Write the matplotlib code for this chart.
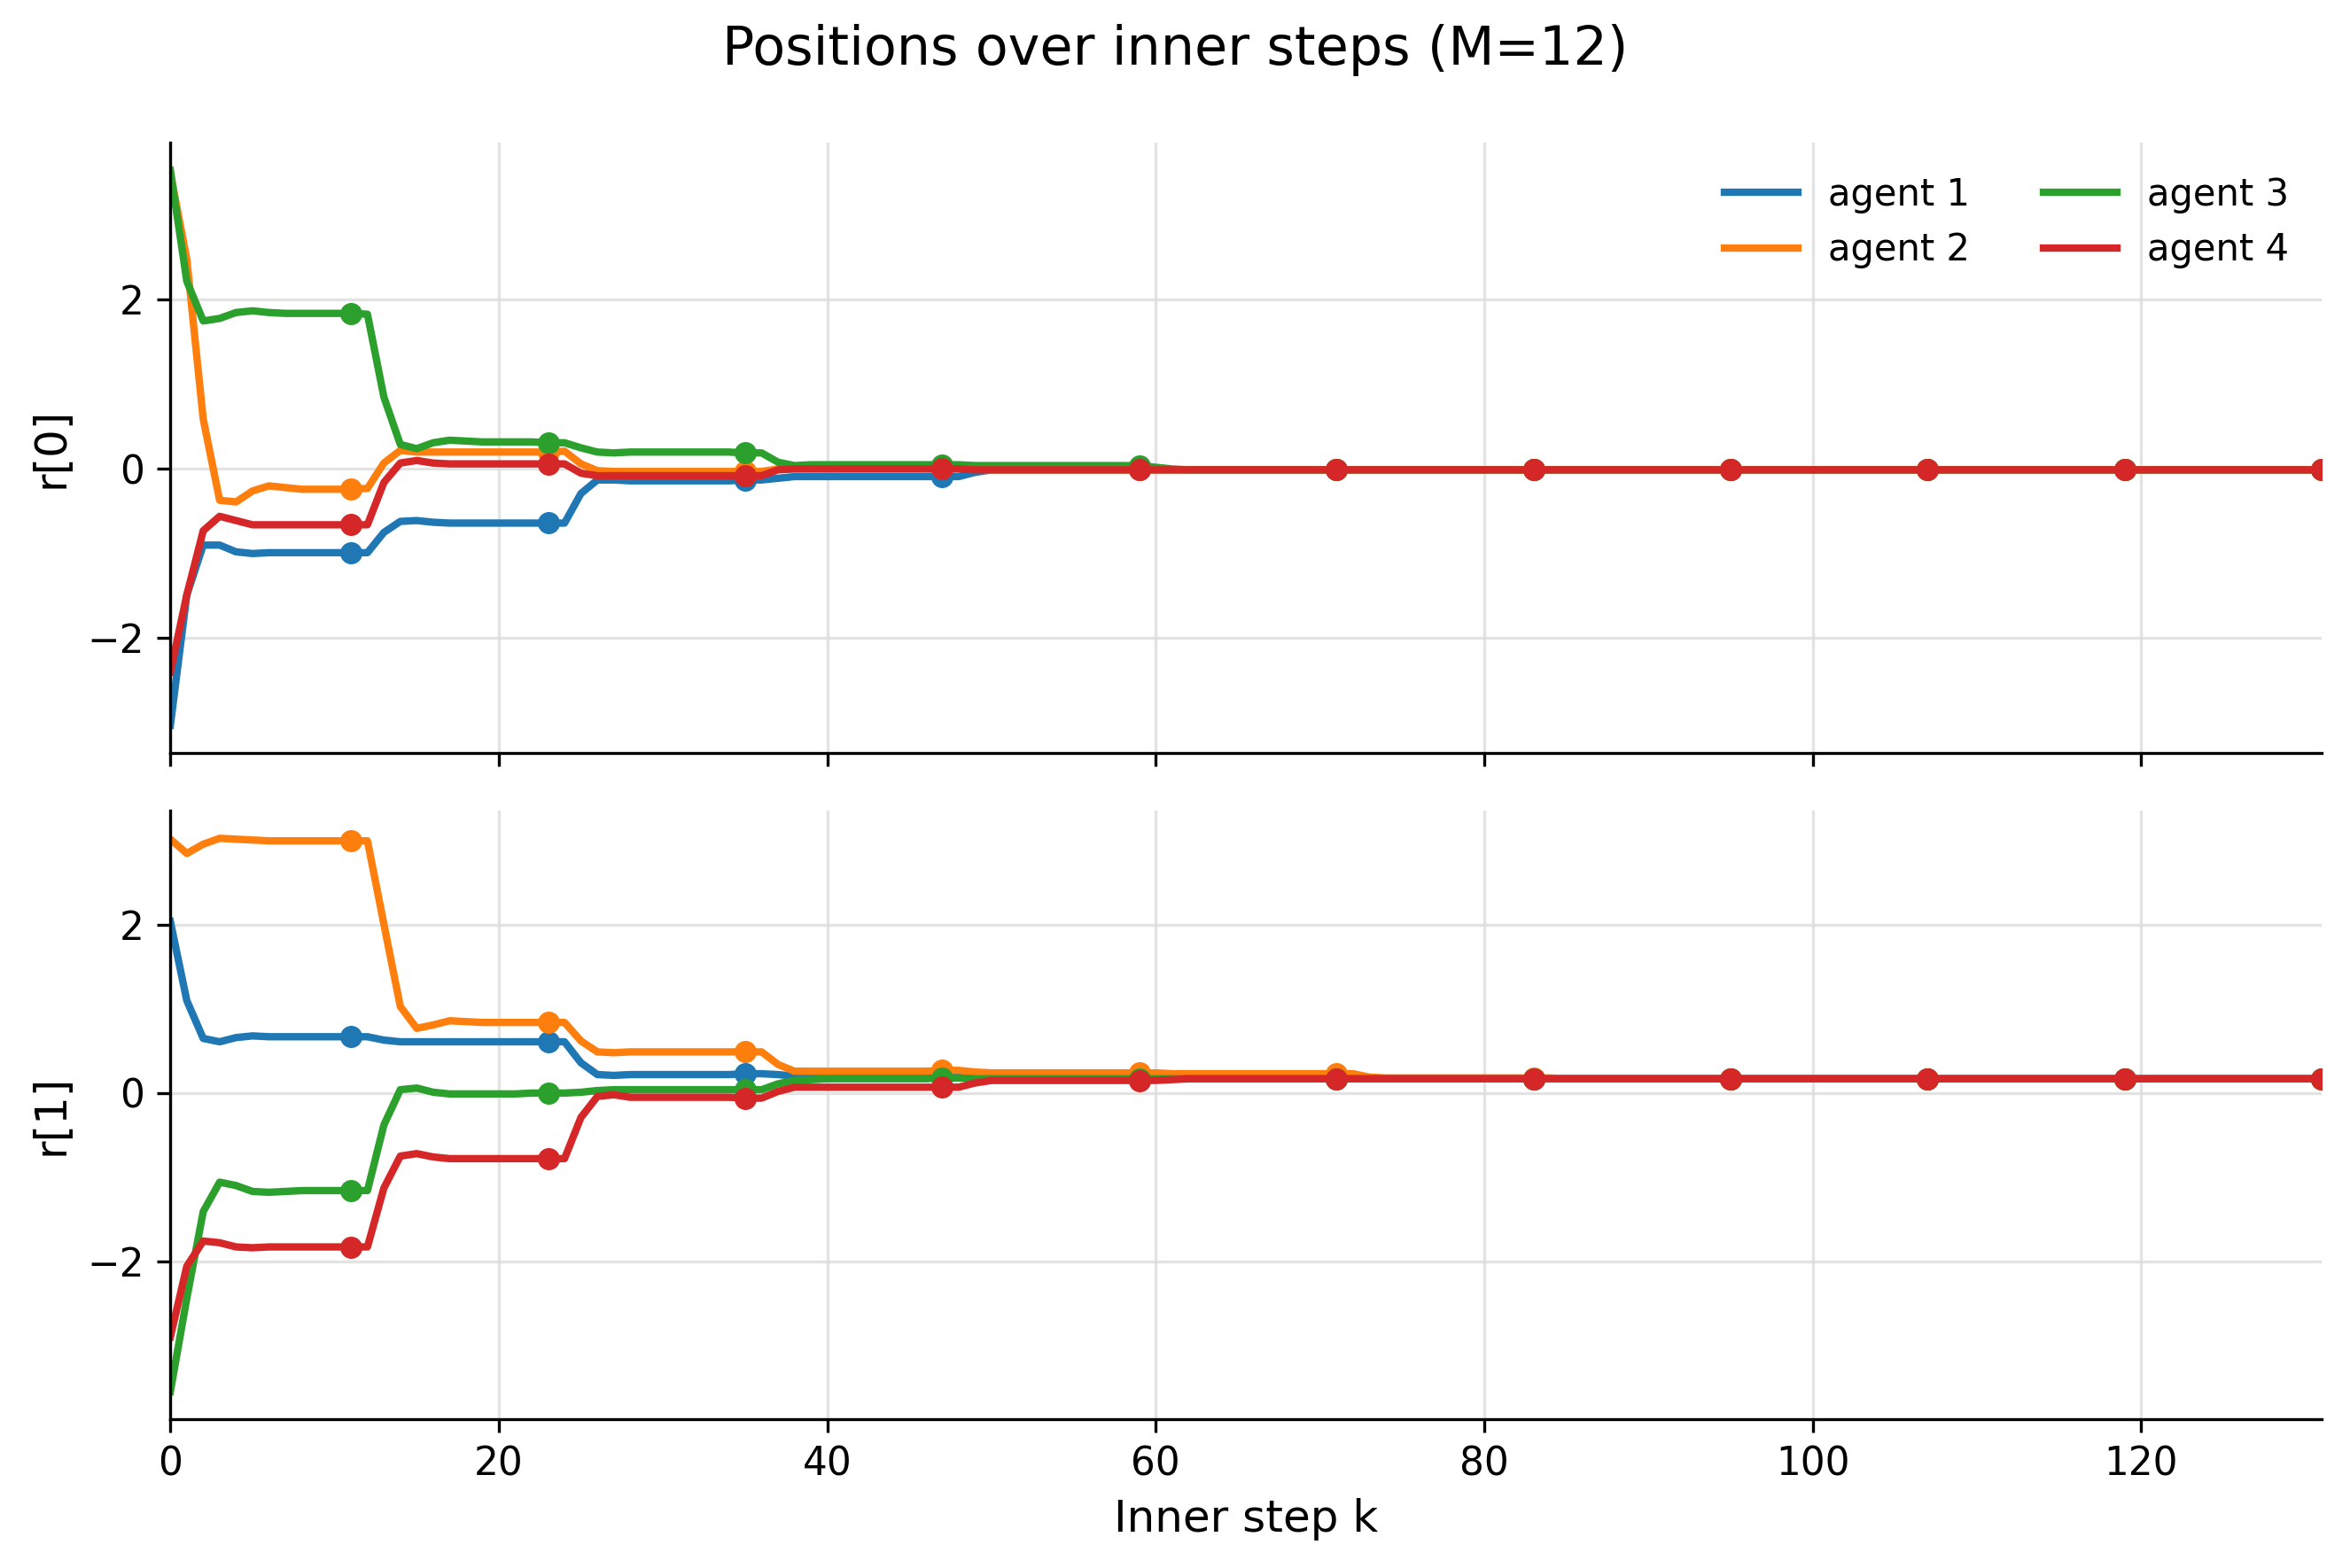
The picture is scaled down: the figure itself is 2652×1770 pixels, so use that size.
import numpy as np
import matplotlib
matplotlib.use("Agg")
import matplotlib.pyplot as plt
from matplotlib.ticker import MultipleLocator

# inner steps, M=12 per outer iteration, 11 outer iterations
M = 12
steps = np.arange(132)
labels = ["agent 1", "agent 2", "agent 3", "agent 4"]
colors = ["#1f77b4", "#ff7f0e", "#2ca02c", "#d62728"]

# r[0] per agent, one row per outer iteration (12 inner steps)
r0_agent1 = [
    -3.03, -1.49, -0.90, -0.90, -0.98, -1.00, -0.99, -0.99, -0.99, -0.99, -0.99, -0.99,
    -0.99, -0.75, -0.62, -0.61, -0.63, -0.64, -0.64, -0.64, -0.64, -0.64, -0.64, -0.64,
    -0.64, -0.29, -0.13, -0.13, -0.14, -0.14, -0.14, -0.14, -0.14, -0.14, -0.14, -0.13,
    -0.13, -0.11, -0.09, -0.09, -0.09, -0.09, -0.09, -0.09, -0.09, -0.09, -0.09, -0.09,
    -0.09, -0.04, -0.01, -0.01, -0.01, -0.01, -0.01, -0.01, -0.01, -0.01, -0.01, -0.01,
    -0.01, -0.01, -0.01, -0.01, -0.01, -0.01, -0.01, -0.01, -0.01, -0.01, -0.01, -0.01,
    -0.01, -0.01, -0.01, -0.01, -0.01, -0.01, -0.01, -0.01, -0.01, -0.01, -0.01, -0.01,
    -0.01, -0.01, -0.01, -0.01, -0.01, -0.01, -0.01, -0.01, -0.01, -0.01, -0.01, -0.01,
    -0.01, -0.01, -0.01, -0.01, -0.01, -0.01, -0.01, -0.01, -0.01, -0.01, -0.01, -0.01,
    -0.01, -0.01, -0.01, -0.01, -0.01, -0.01, -0.01, -0.01, -0.01, -0.01, -0.01, -0.01,
    -0.01, -0.01, -0.01, -0.01, -0.01, -0.01, -0.01, -0.01, -0.01, -0.01, -0.01, -0.01,
]
r0_agent2 = [
    3.50, 2.48, 0.59, -0.37, -0.39, -0.26, -0.20, -0.22, -0.24, -0.24, -0.24, -0.24,
    -0.23, 0.07, 0.22, 0.20, 0.20, 0.20, 0.20, 0.20, 0.20, 0.20, 0.20, 0.20,
    0.21, 0.06, -0.02, -0.03, -0.03, -0.03, -0.03, -0.03, -0.03, -0.03, -0.03, -0.03,
    -0.03, 0.00, 0.01, 0.01, 0.01, 0.01, 0.01, 0.01, 0.01, 0.01, 0.01, 0.01,
    0.01, 0.00, -0.01, -0.01, -0.01, -0.01, -0.01, -0.01, -0.01, -0.01, -0.01, -0.01,
    -0.01, -0.01, -0.01, -0.01, -0.01, -0.01, -0.01, -0.01, -0.01, -0.01, -0.01, -0.01,
    -0.01, -0.01, -0.01, -0.01, -0.01, -0.01, -0.01, -0.01, -0.01, -0.01, -0.01, -0.01,
    -0.01, -0.01, -0.01, -0.01, -0.01, -0.01, -0.01, -0.01, -0.01, -0.01, -0.01, -0.01,
    -0.01, -0.01, -0.01, -0.01, -0.01, -0.01, -0.01, -0.01, -0.01, -0.01, -0.01, -0.01,
    -0.01, -0.01, -0.01, -0.01, -0.01, -0.01, -0.01, -0.01, -0.01, -0.01, -0.01, -0.01,
    -0.01, -0.01, -0.01, -0.01, -0.01, -0.01, -0.01, -0.01, -0.01, -0.01, -0.01, -0.01,
]
r0_agent3 = [
    3.53, 2.22, 1.75, 1.78, 1.85, 1.87, 1.85, 1.84, 1.84, 1.84, 1.84, 1.84,
    1.83, 0.85, 0.29, 0.24, 0.31, 0.34, 0.33, 0.32, 0.32, 0.32, 0.32, 0.31,
    0.31, 0.25, 0.20, 0.19, 0.20, 0.20, 0.20, 0.20, 0.20, 0.20, 0.20, 0.19,
    0.19, 0.08, 0.04, 0.05, 0.05, 0.05, 0.05, 0.05, 0.05, 0.05, 0.05, 0.05,
    0.05, 0.04, 0.04, 0.04, 0.04, 0.04, 0.04, 0.04, 0.04, 0.04, 0.04, 0.04,
    0.02, 0.00, -0.01, -0.01, -0.01, -0.01, -0.01, -0.01, -0.01, -0.01, -0.01, -0.01,
    -0.01, -0.01, -0.01, -0.01, -0.01, -0.01, -0.01, -0.01, -0.01, -0.01, -0.01, -0.01,
    -0.01, -0.01, -0.01, -0.01, -0.01, -0.01, -0.01, -0.01, -0.01, -0.01, -0.01, -0.01,
    -0.01, -0.01, -0.01, -0.01, -0.01, -0.01, -0.01, -0.01, -0.01, -0.01, -0.01, -0.01,
    -0.01, -0.01, -0.01, -0.01, -0.01, -0.01, -0.01, -0.01, -0.01, -0.01, -0.01, -0.01,
    -0.01, -0.01, -0.01, -0.01, -0.01, -0.01, -0.01, -0.01, -0.01, -0.01, -0.01, -0.01,
]
r0_agent4 = [
    -2.40, -1.49, -0.73, -0.56, -0.61, -0.66, -0.66, -0.66, -0.66, -0.66, -0.66, -0.66,
    -0.66, -0.16, 0.07, 0.10, 0.07, 0.06, 0.06, 0.06, 0.06, 0.06, 0.06, 0.06,
    0.06, -0.05, -0.08, -0.08, -0.08, -0.08, -0.08, -0.08, -0.08, -0.08, -0.08, -0.08,
    -0.08, -0.01, 0.00, 0.00, 0.00, 0.00, 0.00, 0.00, 0.00, 0.00, 0.00, 0.00,
    0.00, -0.01, -0.01, -0.01, -0.01, -0.01, -0.01, -0.01, -0.01, -0.01, -0.01, -0.01,
    -0.01, -0.01, -0.01, -0.01, -0.01, -0.01, -0.01, -0.01, -0.01, -0.01, -0.01, -0.01,
    -0.01, -0.01, -0.01, -0.01, -0.01, -0.01, -0.01, -0.01, -0.01, -0.01, -0.01, -0.01,
    -0.01, -0.01, -0.01, -0.01, -0.01, -0.01, -0.01, -0.01, -0.01, -0.01, -0.01, -0.01,
    -0.01, -0.01, -0.01, -0.01, -0.01, -0.01, -0.01, -0.01, -0.01, -0.01, -0.01, -0.01,
    -0.01, -0.01, -0.01, -0.01, -0.01, -0.01, -0.01, -0.01, -0.01, -0.01, -0.01, -0.01,
    -0.01, -0.01, -0.01, -0.01, -0.01, -0.01, -0.01, -0.01, -0.01, -0.01, -0.01, -0.01,
]

# r[1] per agent
r1_agent1 = [
    2.04, 1.10, 0.65, 0.61, 0.66, 0.68, 0.67, 0.67, 0.67, 0.67, 0.67, 0.67,
    0.67, 0.63, 0.61, 0.61, 0.61, 0.61, 0.61, 0.61, 0.61, 0.61, 0.61, 0.61,
    0.61, 0.36, 0.22, 0.21, 0.22, 0.22, 0.22, 0.22, 0.22, 0.22, 0.22, 0.23,
    0.23, 0.22, 0.20, 0.19, 0.19, 0.19, 0.19, 0.19, 0.19, 0.19, 0.19, 0.19,
    0.19, 0.18, 0.18, 0.18, 0.18, 0.18, 0.18, 0.18, 0.18, 0.18, 0.18, 0.18,
    0.18, 0.17, 0.17, 0.17, 0.17, 0.17, 0.17, 0.17, 0.17, 0.17, 0.17, 0.17,
    0.17, 0.17, 0.17, 0.17, 0.17, 0.17, 0.17, 0.17, 0.17, 0.17, 0.17, 0.17,
    0.17, 0.17, 0.17, 0.17, 0.17, 0.17, 0.17, 0.17, 0.17, 0.17, 0.17, 0.17,
    0.17, 0.17, 0.17, 0.17, 0.17, 0.17, 0.17, 0.17, 0.17, 0.17, 0.17, 0.17,
    0.17, 0.17, 0.17, 0.17, 0.17, 0.17, 0.17, 0.17, 0.17, 0.17, 0.17, 0.17,
    0.17, 0.17, 0.17, 0.17, 0.17, 0.17, 0.17, 0.17, 0.17, 0.17, 0.17, 0.17,
]
r1_agent2 = [
    3.02, 2.85, 2.96, 3.03, 3.02, 3.01, 3.00, 3.00, 3.00, 3.00, 3.00, 3.00,
    3.00, 2.01, 1.03, 0.77, 0.81, 0.86, 0.85, 0.84, 0.84, 0.84, 0.84, 0.84,
    0.84, 0.62, 0.49, 0.48, 0.49, 0.49, 0.49, 0.49, 0.49, 0.49, 0.49, 0.49,
    0.49, 0.34, 0.26, 0.26, 0.26, 0.26, 0.26, 0.26, 0.26, 0.26, 0.26, 0.27,
    0.27, 0.25, 0.24, 0.24, 0.24, 0.24, 0.24, 0.24, 0.24, 0.24, 0.24, 0.24,
    0.24, 0.23, 0.23, 0.23, 0.23, 0.23, 0.23, 0.23, 0.23, 0.23, 0.23, 0.23,
    0.23, 0.19, 0.18, 0.18, 0.18, 0.18, 0.18, 0.18, 0.18, 0.18, 0.18, 0.18,
    0.18, 0.17, 0.17, 0.17, 0.17, 0.17, 0.17, 0.17, 0.17, 0.17, 0.17, 0.17,
    0.17, 0.17, 0.17, 0.17, 0.17, 0.17, 0.17, 0.17, 0.17, 0.17, 0.17, 0.17,
    0.17, 0.17, 0.17, 0.17, 0.17, 0.17, 0.17, 0.17, 0.17, 0.17, 0.17, 0.17,
    0.17, 0.17, 0.17, 0.17, 0.17, 0.17, 0.17, 0.17, 0.17, 0.17, 0.17, 0.17,
]
r1_agent3 = [
    -3.55, -2.44, -1.41, -1.06, -1.10, -1.17, -1.18, -1.17, -1.16, -1.16, -1.16, -1.16,
    -1.16, -0.38, 0.04, 0.06, 0.01, -0.01, -0.01, -0.01, -0.01, -0.01, 0.00, 0.00,
    0.00, 0.01, 0.03, 0.04, 0.04, 0.04, 0.04, 0.04, 0.04, 0.04, 0.04, 0.04,
    0.04, 0.11, 0.15, 0.16, 0.17, 0.17, 0.17, 0.17, 0.17, 0.17, 0.17, 0.18,
    0.18, 0.17, 0.17, 0.17, 0.17, 0.17, 0.17, 0.17, 0.17, 0.17, 0.17, 0.17,
    0.17, 0.17, 0.17, 0.17, 0.17, 0.17, 0.17, 0.17, 0.17, 0.17, 0.17, 0.17,
    0.17, 0.17, 0.17, 0.17, 0.17, 0.17, 0.17, 0.17, 0.17, 0.17, 0.17, 0.17,
    0.17, 0.17, 0.17, 0.17, 0.17, 0.17, 0.17, 0.17, 0.17, 0.17, 0.17, 0.17,
    0.17, 0.17, 0.17, 0.17, 0.17, 0.17, 0.17, 0.17, 0.17, 0.17, 0.17, 0.17,
    0.17, 0.17, 0.17, 0.17, 0.17, 0.17, 0.17, 0.17, 0.17, 0.17, 0.17, 0.17,
    0.17, 0.17, 0.17, 0.17, 0.17, 0.17, 0.17, 0.17, 0.17, 0.17, 0.17, 0.17,
]
r1_agent4 = [
    -2.90, -2.06, -1.76, -1.78, -1.83, -1.84, -1.83, -1.83, -1.83, -1.83, -1.83, -1.83,
    -1.83, -1.13, -0.75, -0.72, -0.76, -0.78, -0.78, -0.78, -0.78, -0.78, -0.78, -0.78,
    -0.78, -0.29, -0.04, -0.02, -0.05, -0.05, -0.05, -0.05, -0.05, -0.05, -0.05, -0.06,
    -0.06, 0.02, 0.07, 0.07, 0.07, 0.07, 0.07, 0.07, 0.07, 0.07, 0.07, 0.07,
    0.07, 0.12, 0.15, 0.15, 0.15, 0.15, 0.15, 0.15, 0.15, 0.15, 0.15, 0.15,
    0.15, 0.16, 0.17, 0.17, 0.17, 0.17, 0.17, 0.17, 0.17, 0.17, 0.17, 0.17,
    0.17, 0.17, 0.17, 0.17, 0.17, 0.17, 0.17, 0.17, 0.17, 0.17, 0.17, 0.17,
    0.17, 0.17, 0.17, 0.17, 0.17, 0.17, 0.17, 0.17, 0.17, 0.17, 0.17, 0.17,
    0.17, 0.17, 0.17, 0.17, 0.17, 0.17, 0.17, 0.17, 0.17, 0.17, 0.17, 0.17,
    0.17, 0.17, 0.17, 0.17, 0.17, 0.17, 0.17, 0.17, 0.17, 0.17, 0.17, 0.17,
    0.17, 0.17, 0.17, 0.17, 0.17, 0.17, 0.17, 0.17, 0.17, 0.17, 0.17, 0.17,
]

r0 = [r0_agent1, r0_agent2, r0_agent3, r0_agent4]
r1 = [r1_agent1, r1_agent2, r1_agent3, r1_agent4]

fig = plt.figure(figsize=(8.84, 5.9), dpi=300)
ax0 = fig.add_axes([0.0725, 0.5198, 0.9155, 0.3892])
ax1 = fig.add_axes([0.0725, 0.0949, 0.9155, 0.3881], sharex=ax0)

for ax, comp, name in [(ax0, r0, "r[0]"), (ax1, r1, "r[1]")]:
    for vals, lab, c in zip(comp, labels, colors):
        v = np.array(vals)
        ax.plot(steps, v, color=c, lw=2, label=lab)
        # end of each outer iteration
        ax.plot(steps[M - 1::M], v[M - 1::M], "o", color=c, ms=5)
    ax.set_ylabel(name, fontsize=12)
    ax.yaxis.set_major_locator(MultipleLocator(2))
    ax.grid(True, color="#dddddd", lw=0.8, alpha=0.8)
    ax.spines["top"].set_visible(False)
    ax.spines["right"].set_visible(False)
    ax.tick_params(labelsize=10.5)

ax0.set_xlim(0, 131)
ax0.tick_params(labelbottom=False)
ax1.set_xlabel("Inner step k", fontsize=12)
ax0.legend(loc="upper right", ncol=2, frameon=False, fontsize=10)

fig.suptitle("Positions over inner steps (M=12)", fontsize=14.5, y=0.985)

fig.savefig("out.png", dpi=300)
